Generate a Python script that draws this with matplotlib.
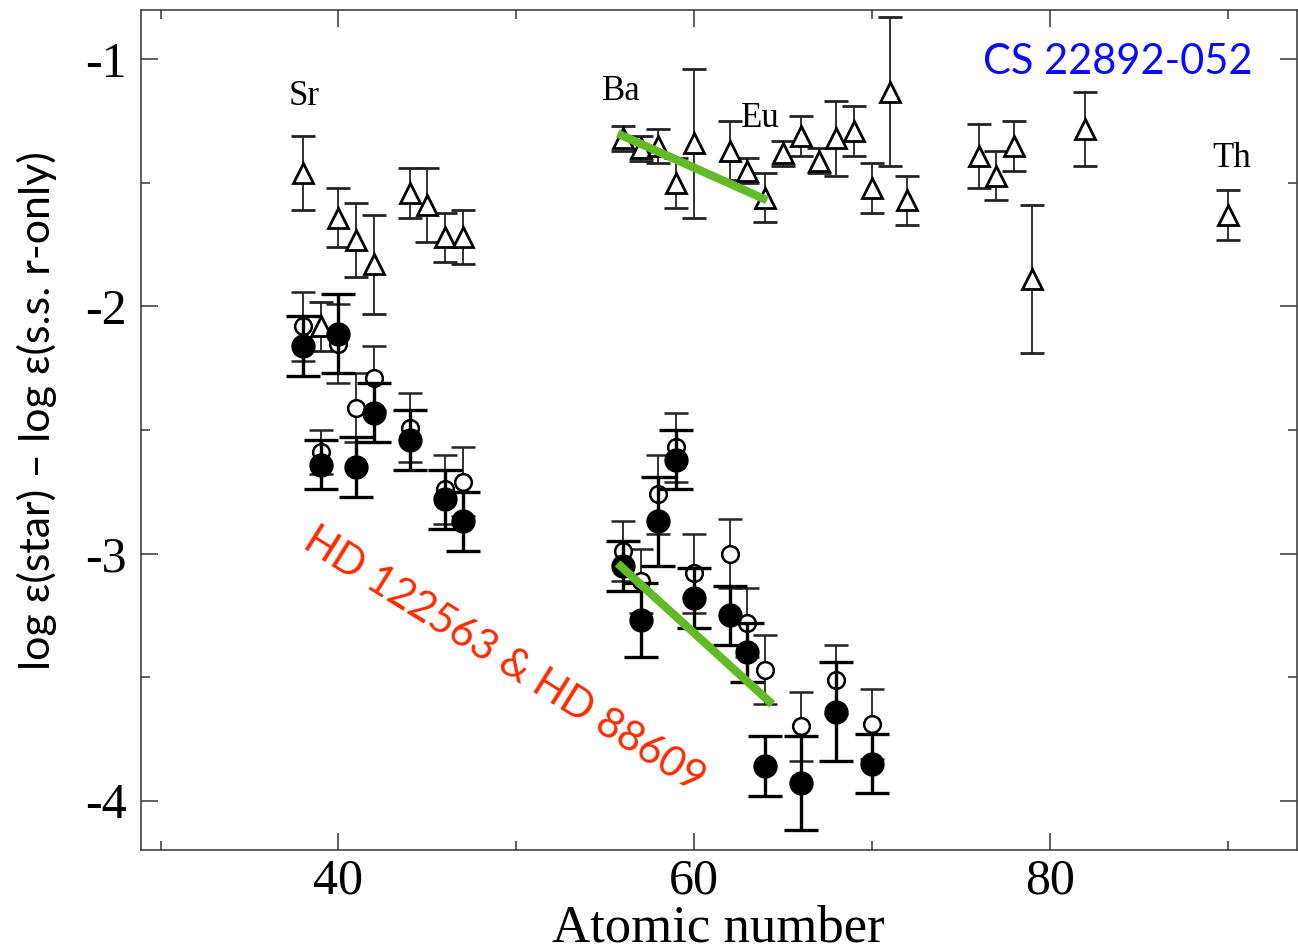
import matplotlib
matplotlib.use("Agg")
import matplotlib.pyplot as plt
from matplotlib.ticker import MultipleLocator

plt.rcParams['axes.unicode_minus'] = False

# CS 22892-052 (open triangles)
z_cs = [38, 39, 40, 41, 42, 44, 45, 46, 47, 56, 57, 58, 59, 60, 62, 63, 64, 65,
        66, 67, 68, 69, 70, 71, 72, 76, 77, 78, 79, 82, 90]
cs_val = [-1.46, -2.08, -1.64, -1.73, -1.83, -1.54, -1.59, -1.72, -1.72,
          -1.32, -1.36, -1.35, -1.50, -1.34, -1.37, -1.45, -1.56, -1.38,
          -1.31, -1.41, -1.32, -1.29, -1.52, -1.13, -1.57, -1.39, -1.47,
          -1.35, -1.89, -1.28, -1.63]
cs_err = [0.15, 0.10, 0.12, 0.15, 0.20, 0.10, 0.15, 0.10, 0.11,
          0.05, 0.05, 0.07, 0.10, 0.30, 0.12, 0.05, 0.10, 0.05,
          0.08, 0.05, 0.15, 0.10, 0.10, 0.30, 0.10, 0.13, 0.10,
          0.10, 0.30, 0.15, 0.10]

# HD 122563 (filled circles)
z_hd1 = [38, 39, 40, 41, 42, 44, 46, 47, 56, 57, 58, 59, 60, 62, 63, 64, 66, 68, 70]
hd1_val = [-2.16, -2.64, -2.11, -2.65, -2.43, -2.54, -2.78, -2.87, -3.05, -3.27,
           -2.87, -2.62, -3.18, -3.25, -3.40, -3.86, -3.93, -3.64, -3.85]
hd1_err = [0.12, 0.10, 0.16, 0.12, 0.12, 0.12, 0.12, 0.12, 0.10, 0.15,
           0.18, 0.12, 0.12, 0.12, 0.12, 0.12, 0.19, 0.20, 0.12]

# HD 88609 (open circles)
z_hd2 = [38, 39, 40, 41, 42, 44, 46, 47, 56, 57, 58, 59, 60, 62, 63, 64, 66, 68, 70]
hd2_val = [-2.08, -2.59, -2.15, -2.41, -2.29, -2.49, -2.74, -2.71, -2.99, -3.11,
           -2.76, -2.57, -3.08, -3.00, -3.28, -3.47, -3.70, -3.51, -3.69]
hd2_err = [0.14, 0.09, 0.16, 0.14, 0.13, 0.14, 0.14, 0.14, 0.12, 0.13,
           0.16, 0.14, 0.16, 0.14, 0.14, 0.14, 0.14, 0.14, 0.14]

# Ba-Eu trend segments
trend_x_top = [55.7, 64.1]
trend_y_top = [-1.30, -1.57]
trend_x_bot = [55.7, 64.4]
trend_y_bot = [-3.04, -3.61]

# element markers
elem_names = ["Sr", "Ba", "Eu", "Th"]
elem_x = [38.1, 55.9, 63.7, 90.25]
elem_y = [-1.15, -1.13, -1.24, -1.40]

fig = plt.figure(figsize=(12.98, 9.51), dpi=100)
ax = fig.add_axes([0.1086, 0.1062, 0.8906, 0.8833])

ax.errorbar(z_cs, cs_val, yerr=cs_err, fmt='^', ms=14, mfc='white', mec='black',
            mew=2.0, ecolor='#222222', elinewidth=1.3, capsize=8.5, capthick=1.3,
            zorder=3)
ax.errorbar(z_hd2, hd2_val, yerr=hd2_err, fmt='o', ms=12, mfc='white', mec='black',
            mew=1.8, ecolor='#222222', elinewidth=1.3, capsize=8.5, capthick=1.3,
            zorder=4)
ax.errorbar(z_hd1, hd1_val, yerr=hd1_err, fmt='o', ms=16.5, mfc='black', mec='black',
            ecolor='black', elinewidth=2.4, capsize=12, capthick=2.4, zorder=5)

ax.plot(trend_x_top, trend_y_top, color='#62bb26', lw=6, solid_capstyle='butt', zorder=6)
ax.plot(trend_x_bot, trend_y_bot, color='#62bb26', lw=6, solid_capstyle='butt', zorder=6)

for name, x, y in zip(elem_names, elem_x, elem_y):
    ax.text(x, y, name, family='Liberation Serif', fontsize=25,
            ha='center', va='center', zorder=7)

ax.text(83.8, -1.01, "CS 22892-052", color='#0a0aff', family='Lato', fontsize=30,
        ha='center', va='center', zorder=7)
ax.text(49.3, -3.43, "HD 122563 & HD 88609", color='#ff2a00', family='Lato',
        fontsize=30, rotation=-32, rotation_mode='anchor', ha='center', va='center',
        zorder=7)

ax.set_xlim(28.9, 93.9)
ax.set_ylim(-4.2, -0.8)
ax.xaxis.set_minor_locator(MultipleLocator(10))
ax.yaxis.set_minor_locator(MultipleLocator(0.5))
ax.set_xticks([40, 60, 80])
ax.set_yticks([-4, -3, -2, -1])
ax.set_yticklabels(["-4", "-3", "-2", "-1"])

ax.tick_params(which='both', direction='in', top=True, right=True, color='#333333',
               width=1.1)
ax.tick_params(which='major', length=12, labelsize=36)
ax.tick_params(axis='x', which='major', pad=6)
ax.tick_params(axis='y', which='major', pad=10)
ax.tick_params(which='minor', length=6.5)
for lab in ax.get_xticklabels() + ax.get_yticklabels():
    lab.set_family('Liberation Serif')
for sp in ax.spines.values():
    sp.set_color('#333333')
    sp.set_linewidth(1.1)

ax.set_xlabel("Atomic number", family='Liberation Serif', fontsize=38,
              va='baseline', ha='center')
ax.xaxis.set_label_coords(0.4996, -0.1095)
ax.set_ylabel("log ε(star) – log ε(s.s. r-only)", family='Lato', fontsize=31,
              va='center', ha='center')
ax.yaxis.set_label_coords(-0.090, 0.5226)

fig.savefig("out.png", dpi=100)
